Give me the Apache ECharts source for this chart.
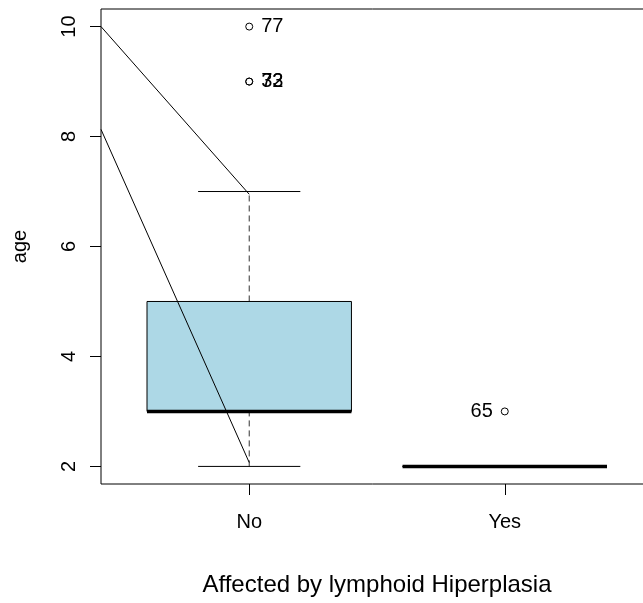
<!DOCTYPE html>
<html><head><meta charset="utf-8">
<script src="https://cdn.jsdelivr.net/npm/echarts@6/dist/echarts.min.js"></script>
<style>html,body{margin:0;padding:0;background:#fff}#c{width:643px;height:603px}</style>
</head><body><div id="c"></div>
<script>
// ---- data ----
const categories = ['No', 'Yes'];
const categoryPos = [1, 2];
const whiskerLow = [2, 2];
const q1 = [3, 2];
const median = [3, 2];
const q3 = [5, 2];
const whiskerHigh = [7, 2];
const outlierX = [1, 1, 1, 2];
const outlierY = [10, 9, 9, 3];
const outlierLabels = ['77', '32', '73', '65'];
const yTicks = [2, 4, 6, 8, 10];
const line1 = [[0.42, 10.0], [1, 6.95]];
const line2 = [[0.42, 8.13], [1, 2.07]];
const xTitle = 'Affected by lymphoid Hiperplasia';
const yTitle = 'age';

const FONT = '"Liberation Sans", Arial, Helvetica, sans-serif';
const chart = echarts.init(document.getElementById('c'), null, {renderer: 'canvas'});

const boxData = categoryPos.map((x, i) => [x, whiskerLow[i], q1[i], median[i], q3[i], whiskerHigh[i]]);
const outData = outlierX.map((x, i) => ({value: [x, outlierY[i]], label: {position: x === 2 ? 'left' : 'right'}, name: outlierLabels[i]}));

const option = {
  animation: false,
  backgroundColor: '#fff',
  grid: {left: 101, top: 9, width: 552, height: 475, containLabel: false, outerBoundsMode: 'none',
    show: true, borderColor: '#000', borderWidth: 1, backgroundColor: 'transparent'},
  xAxis: {
    type: 'value', min: 0.42, max: 2.58,
    splitLine: {show: false},
    axisLine: {show: false},
    axisTick: {show: true, customValues: categoryPos, length: 11, lineStyle: {color: '#000'}},
    axisLabel: {show: true, customValues: categoryPos, margin: 28, color: '#000', fontSize: 20, fontFamily: FONT,
      formatter: v => categories[categoryPos.indexOf(Math.round(v))] || ''},
    name: xTitle, nameLocation: 'middle', nameGap: 89,
    nameTextStyle: {color: '#000', fontSize: 24, fontFamily: FONT}
  },
  yAxis: {
    type: 'value', min: 1.68, max: 10.32,
    splitLine: {show: false},
    axisLine: {show: false},
    axisTick: {show: true, customValues: yTicks, length: 11, lineStyle: {color: '#000'}},
    axisLabel: {show: true, customValues: yTicks, rotate: 90, margin: 22, color: '#000', fontSize: 20, fontFamily: FONT},
    name: yTitle, nameLocation: 'middle', nameGap: 71, nameRotate: 90,
    nameTextStyle: {color: '#000', fontSize: 20, fontFamily: FONT}
  },
  series: [
    {
      type: 'custom',
      data: boxData,
      clip: true,
      renderItem: function (params, api) {
        const x = api.value(0), lo = api.value(1), a = api.value(2), m = api.value(3), b = api.value(4), hi = api.value(5);
        const tl = api.coord([x - 0.4, b]);
        const br = api.coord([x + 0.4, a]);
        const m1 = api.coord([x - 0.4, m]), m2 = api.coord([x + 0.4, m]);
        const pHi = api.coord([x, hi]), pB = api.coord([x, b]), pA = api.coord([x, a]), pLo = api.coord([x, lo]);
        const cHL = api.coord([x - 0.2, hi]), cHR = api.coord([x + 0.2, hi]);
        const cLL = api.coord([x - 0.2, lo]), cLR = api.coord([x + 0.2, lo]);
        const dash = {stroke: '#333', lineWidth: 1, lineDash: [6, 4]};
        const solid = {stroke: '#000', lineWidth: 1};
        return {
          type: 'group',
          children: [
            {type: 'line', shape: {x1: pB[0], y1: pB[1], x2: pHi[0], y2: pHi[1]}, style: dash},
            {type: 'line', shape: {x1: pLo[0], y1: pLo[1], x2: pA[0], y2: pA[1]}, style: dash},
            {type: 'line', shape: {x1: cHL[0], y1: cHL[1], x2: cHR[0], y2: cHR[1]}, style: solid},
            {type: 'line', shape: {x1: cLL[0], y1: cLL[1], x2: cLR[0], y2: cLR[1]}, style: solid},
            {type: 'rect', shape: {x: tl[0], y: tl[1], width: br[0] - tl[0], height: br[1] - tl[1]},
              style: {fill: '#ADD8E6', stroke: '#000', lineWidth: 1}},
            {type: 'line', shape: {x1: m1[0], y1: m1[1], x2: m2[0], y2: m2[1]}, style: {stroke: '#000', lineWidth: 3.5}}
          ]
        };
      }
    },
    {
      type: 'scatter',
      data: outData,
      symbol: 'circle', symbolSize: 7,
      itemStyle: {color: 'rgba(255,255,255,0)', borderColor: '#000', borderWidth: 1, opacity: 1},
      label: {show: true, formatter: p => p.name, distance: 8, color: '#000', opacity: 1, textBorderWidth: 0,
        fontSize: 20, fontFamily: FONT},
      emphasis: {disabled: true},
      z: 5
    },
    {
      type: 'line', data: line1, symbol: 'none', lineStyle: {color: '#000', width: 1}, z: 6
    },
    {
      type: 'line', data: line2, symbol: 'none', lineStyle: {color: '#000', width: 1}, z: 6
    }
  ]
};
chart.setOption(option);
</script>
</body></html>
